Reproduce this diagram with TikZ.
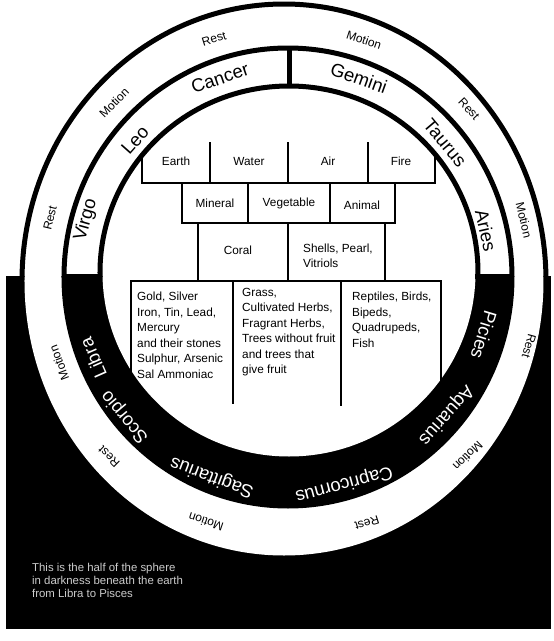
\documentclass[tikz,border=0pt]{standalone}
\usepackage{fontspec}
\setmainfont{Liberation Sans}

\tikzset{
  sign/.style={font=\fontsize{18.5}{20}\selectfont, inner sep=0pt},
  darksign/.style={sign, text=white},
  phase/.style={font=\fontsize{12}{13}\selectfont, inner sep=0pt},
  cell/.style={font=\fontsize{11.8}{15.5}\selectfont, inner sep=0pt, align=left},
  circline/.style={line width=5pt},
  tableline/.style={line width=2.8pt, line cap=rect},
}

\begin{document}
\begin{tikzpicture}[x=1pt, y=1pt]
	\useasboundingbox (-288,-365) rectangle (266,276);
	% the dark half below the earth
	\fill[black] (-282,0) rectangle (263,-353);
	\fill[white] (-4,-5) ellipse [x radius=259.5, y radius=274.5];
	\begin{scope}
		\clip (-288,0) rectangle (266,-365);
		\fill[black] (0,-1) ellipse [x radius=226.5, y radius=231.5];
		\fill[white] (1,3.5) ellipse [x radius=186.5, y radius=184];
	\end{scope}
	% the upper half, drawn in lines
	\begin{scope}
		\clip (-288,0) rectangle (266,276);
		\draw[circline] (-4,-5) ellipse [x radius=262, y radius=277];
		\draw[circline] (0,-1) ellipse [x radius=224, y radius=229];
		\draw[circline] (1,3.5) ellipse [x radius=189, y radius=186.5];
	\end{scope}
	\draw[circline] (2,188) -- (2,230);
	\draw[circline] (-226,0) -- (-186,0);
	\draw[circline] (187,0) -- (226,0);
	% the table of elements and kingdoms
	\begin{scope}
		\clip (1,3.5) ellipse [x radius=188, y radius=185.5];
		\draw[tableline] (-146,140) -- (-146,93) -- (147,93) -- (147,140);
		\foreach \x in {-78,0,80} \draw[tableline] (\x,133) -- (\x,93);
		\draw[tableline] (-106,93) -- (-106,53) -- (107,53) -- (107,93);
		\foreach \x in {-40,42} \draw[tableline] (\x,93) -- (\x,53);
		\foreach \x in {-90,0,97} \draw[tableline] (\x,53) -- (\x,-5);
		\draw[tableline] (-157,-140) -- (-157,-5) -- (153,-5) -- (153,-140);
		\draw[tableline] (-55,-5) -- (-55,-127);
		\draw[tableline] (53,-5) -- (53,-129);
	\end{scope}
	\node[cell] (earth) at (-112,115) {Earth};
	\node[cell] (water) at (-39,115) {Water};
	\node[cell] (air) at (40,115) {Air};
	\node[cell] (fire) at (113,115) {Fire};
	\node[cell] (mineral) at (-73,73) {Mineral};
	\node[cell] (vegetable) at (1,73) {Vegetable};
	\node[cell] (animal) at (74,71) {Animal};
	\node[cell] (coral) at (-50,26) {Coral};
	\node[cell, anchor=west] (shells) at (15,20) {Shells, Pearl,\\Vitriols};
	\node[cell, anchor=north west] (metals) at (-151,-16) {Gold, Silver\\Iron, Tin, Lead,\\Mercury\\and their stones\\Sulphur, Arsenic\\Sal Ammoniac};
	\node[cell, anchor=north west] (plants) at (-46,-12) {Grass,\\Cultivated Herbs,\\Fragrant Herbs,\\Trees without fruit\\and trees that\\give fruit};
	\node[cell, anchor=north west] (beasts) at (64,-16) {Reptiles, Birds,\\Bipeds,\\Quadrupeds,\\Fish};
	% signs of the zodiac
	\node[sign, rotate=18.9] (cancer) at (-68,198) {Cancer};
	\node[sign, rotate=-19.7] (gemini) at (71,198) {Gemini};
	\node[sign, rotate=48.4] (leo) at (-153,136) {Leo};
	\node[sign, rotate=-49.7] (taurus) at (157,133) {Taurus};
	\node[sign, rotate=74.5] (virgo) at (-202,56) {Virgo};
	\node[sign, rotate=-77.2] (aries) at (198,45) {Aries};
	\node[darksign, rotate=113.7] (libra) at (-195,-82) {Libra};
	\node[darksign, rotate=130.1] (scorpio) at (-163,-141) {Scorpio};
	\node[darksign, rotate=159.3] (sagittarius) at (-76,-201) {Sagittarius};
	\node[darksign, rotate=195.1] (capricornus) at (56,-208) {Capricornus};
	\node[darksign, rotate=228.7] (aquarius) at (158,-139) {Aquarius};
	\node[darksign, rotate=253.2] (picies) at (196,-59) {Picies};
	% rest and motion round the outside
	\node[phase, rotate=17.4] (rest1) at (-74,237) {Rest};
	\node[phase, rotate=-18.1] (motion1) at (76,236) {Motion};
	\node[phase, rotate=45.3] (motion2) at (-174,173) {Motion};
	\node[phase, rotate=-47] (rest2) at (181,167) {Rest};
	\node[phase, rotate=76.8] (rest3) at (-238,58) {Rest};
	\node[phase, rotate=-76.6] (motion3) at (236,56) {Motion};
	\node[phase, rotate=110.7] (motion4) at (-229,-87) {Motion};
	\node[phase, rotate=135.5] (rest4) at (-179,-181) {Rest};
	\node[phase, rotate=161.4] (motion5) at (-82,-246) {Motion};
	\node[phase, rotate=197.7] (rest5) at (79,-247) {Rest};
	\node[phase, rotate=224.5] (motion6) at (180,-180) {Motion};
	\node[phase, rotate=254.5] (rest6) at (241,-70) {Rest};
	\node[anchor=north west, inner sep=0pt, align=left, text=white!80!black,
	      font=\fontsize{11.4}{13}\selectfont] (caption) at (-256,-287)
	      {This is the half of the sphere\\in darkness beneath the earth\\from Libra to Pisces};
\end{tikzpicture}
\end{document}
